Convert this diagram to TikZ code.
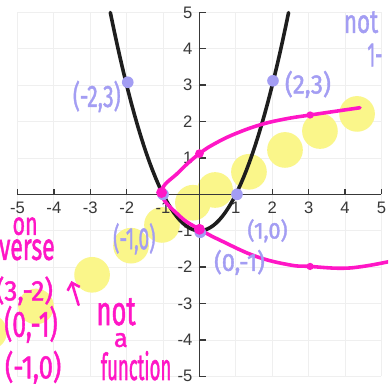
\documentclass[tikz,border=0pt]{standalone}
\usepackage{fontspec}
\usepackage{graphicx}
\setsansfont{Liberation Sans}
\newfontfamily\penfont[FakeBold=1.6]{Fira Sans}
\usetikzlibrary{arrows.meta}
\definecolor{lavender}{HTML}{A39DF3}
\definecolor{hotpink}{HTML}{FF16C6}
\definecolor{marker}{HTML}{FAF68A}
\definecolor{axisgray}{HTML}{383838}
\definecolor{gridgray}{HTML}{EFEFEF}
\definecolor{curveblack}{HTML}{1E1E1E}
\tikzset{
  axisline/.style={draw=axisgray, line width=1.1pt},
  ticklabel/.style={font=\sffamily\fontsize{13}{13}\selectfont,
    text=axisgray, inner sep=0pt},
  pen/.style={font=\penfont\fontsize{#1}{#1}\selectfont, inner sep=0pt},
  pen/.default=18,
  inkline/.style={line width=2.8pt, line cap=round, line join=round, color=#1},
  inkline/.default=hotpink,
}
\begin{document}
\begin{tikzpicture}[x=1cm, y=1cm]
  \useasboundingbox (-5.48,-5.32) rectangle (5.18,5.34);
  \fill[white] (-5.48,-5.32) rectangle (5.18,5.34);
  \clip (-5.48,-5.32) rectangle (5.18,5.34);
  % grid
  \draw[gridgray, line width=0.6pt] (-5,-5) grid (5,5);
  % highlighter blobs
  \foreach \bx/\by in {-5.78/-3.78, -4.49/-3.08, -2.95/-2.21, -1.88/-1.41,
      -1.03/-0.84, -0.18/-0.23, 0.43/0.12, 1.36/0.62, 2.35/1.22,
      3.31/1.74, 4.33/2.21}
    \fill[marker] (\bx,\by) circle (0.49);
  % axes
  \draw[axisline] (-5,0) -- (5,0);
  \draw[axisline] (0,-5) -- (0,5);
  \foreach \i in {-5,...,5} {
    \draw[axisline] (\i,0) -- (\i,0.15);
    \draw[axisline] (0,\i) -- (0.17,\i);
  }
  \foreach \i in {-5,-4,-3,-2,-1,1,2,3,4,5} {
    \node[ticklabel] (xl\i) at (\i,-0.36) {\i};
    \node[ticklabel, anchor=east] (yl\i) at (-0.19,\i) {\i};
  }
  % f(x) = x^2 - 1
  \draw[inkline=curveblack] plot[domain=-2.449:2.449, samples=60]
    (\x, {\x*\x-1});
  % inverse, drawn by hand
  \draw[inkline] plot[smooth, tension=0.7] coordinates {
    (4.41,2.38) (3.04,2.18) (2.35,2.07) (1.7,1.92) (1.02,1.68)
    (0.47,1.42) (0,1.12) (-0.56,0.62) (-1.04,0.05) (-0.56,-0.58)
    (0,-0.96) (0.65,-1.3) (1.57,-1.71) (2.49,-1.94) (3.04,-1.98)
    (3.86,-2.03) (4.49,-1.98) (5.3,-1.83)};
  % points of f
  \foreach \px/\py in {-1.97/3.08, 2.02/3.12, 1.03/0, -1.0/0, 0.02/-1.04}
    \fill[lavender] (\px,\py) circle (0.16);
  % points of the inverse
  \fill[hotpink] (-1.04,0.05) circle (0.15);
  \fill[hotpink] (0,-0.96) circle (0.15);
  \fill[hotpink] (0,1.12) circle (0.12);
  \fill[hotpink] (3.04,2.18) circle (0.1);
  \fill[hotpink] (3.04,-1.98) circle (0.1);
  % purple notes
  \node[pen=16.7, lavender] (pm23) at (-2.82,2.69) {\scalebox{1}[1.45]{(-2,3)}};
  \node[pen=19, lavender] (pp23) at (2.98,3.02) {\scalebox{1}[1.1]{(2,3)}};
  \node[pen=15, lavender] (pm10) at (-1.79,-1.22) {\scalebox{1}[1.6]{(-1,0)}};
  \node[pen=17, lavender] (pp10) at (1.87,-1.00) {\scalebox{1}[1.05]{(1,0)}};
  \node[pen=18.4, lavender] (pp0m1) at (1.10,-1.87) {\scalebox{1}[1.05]{(0,-1)}};
  \node[pen=17.5, lavender, anchor=base] (pnot) at (4.44,4.44) {\scalebox{1}[1.45]{not}};
  \node[pen=14, lavender] (pone) at (4.82,3.83) {\scalebox{1}[1.9]{1-}};
  % pink notes
  \node[pen=16.8, hotpink, anchor=base] (kon) at (-4.79,-1.11) {\scalebox{1}[1.5]{on}};
  \node[pen=18, hotpink, anchor=base east] (kinv) at (-3.97,-1.80) {\scalebox{1}[1.65]{inverse}};
  \node[pen=20.5, hotpink, anchor=east] (k32) at (-4.02,-2.65) {\scalebox{1}[1.08]{(3,-2)}};
  \node[pen=19.4, hotpink, anchor=east] (k0m1) at (-3.89,-3.57) {\scalebox{1}[1.47]{(0,-1)}};
  \node[pen=20, hotpink] (km10) at (-4.57,-4.75) {\scalebox{1}[1.27]{(-1,0)}};
  \node[pen=20, hotpink, anchor=base] (knot) at (-2.29,-3.59) {\scalebox{1}[1.6]{not}};
  \node[pen=20, hotpink, anchor=base] (ka) at (-2.16,-4.19) {a};
  \node[pen=14.5, hotpink, anchor=base] (kfun) at (-1.74,-5.10) {\scalebox{1}[2.0]{function}};
  % arrow to the mirror line
  \coordinate (atail) at (-3.32,-3.04);
  \coordinate (ahead) at (-3.52,-2.38);
  \draw[hotpink, line width=2pt, line cap=round, -{Straight Barb[length=5pt]}] (atail) -- (ahead);
\end{tikzpicture}
\end{document}
